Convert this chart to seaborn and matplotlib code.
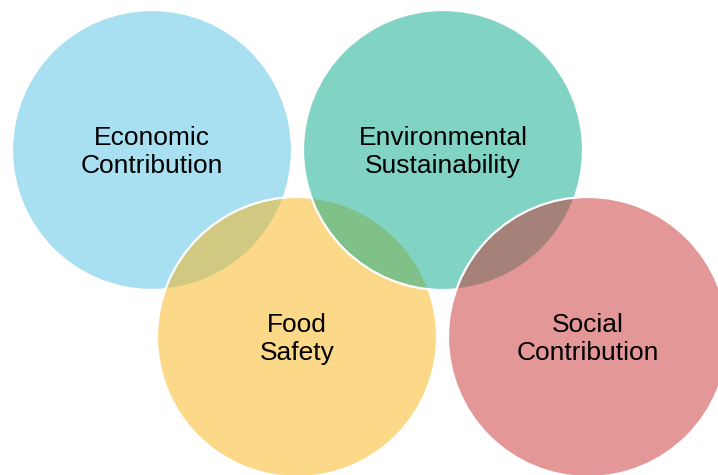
import matplotlib
matplotlib.use("Agg")
import matplotlib.pyplot as plt
import seaborn as sns
from matplotlib.patches import Circle

# four overlapping circles, drawn in this order
labels = ["Economic\nContribution", "Food\nSafety", "Environmental\nSustainability", "Social\nContribution"]
center_x = [152, 297, 443, 588]
center_y = [150, 337, 150, 337]
radius = 140
colors = ["#53c3e5", "#fbb315", "#05a989", "#cb3131"]

sns.set_theme(style="white")
plt.rcParams['font.family'] = ['Liberation Sans', 'DejaVu Sans']

fig = plt.figure(figsize=(7.18, 4.75), dpi=100)
ax = fig.add_axes([0, 0, 1, 1])
ax.set_xlim(0, 718)
ax.set_ylim(475, 0)
ax.set_aspect("equal")
ax.axis("off")

for lab, cx, cy, col in zip(labels, center_x, center_y, colors):
    # fill with transparency, white outline kept opaque
    ax.add_patch(Circle((cx, cy), radius, facecolor=col, alpha=0.5, edgecolor="none", zorder=1))
    ax.add_patch(Circle((cx, cy), radius, facecolor="none", edgecolor="white", lw=1.6, zorder=1))

for lab, cx, cy in zip(labels, center_x, center_y):
    for i, line in enumerate(lab.split("\n")):
        ax.text(cx, cy - 5 + i * 28, line, ha="center", va="baseline",
                fontsize=19, color="black", zorder=3)

fig.savefig("out.png", dpi=100)
